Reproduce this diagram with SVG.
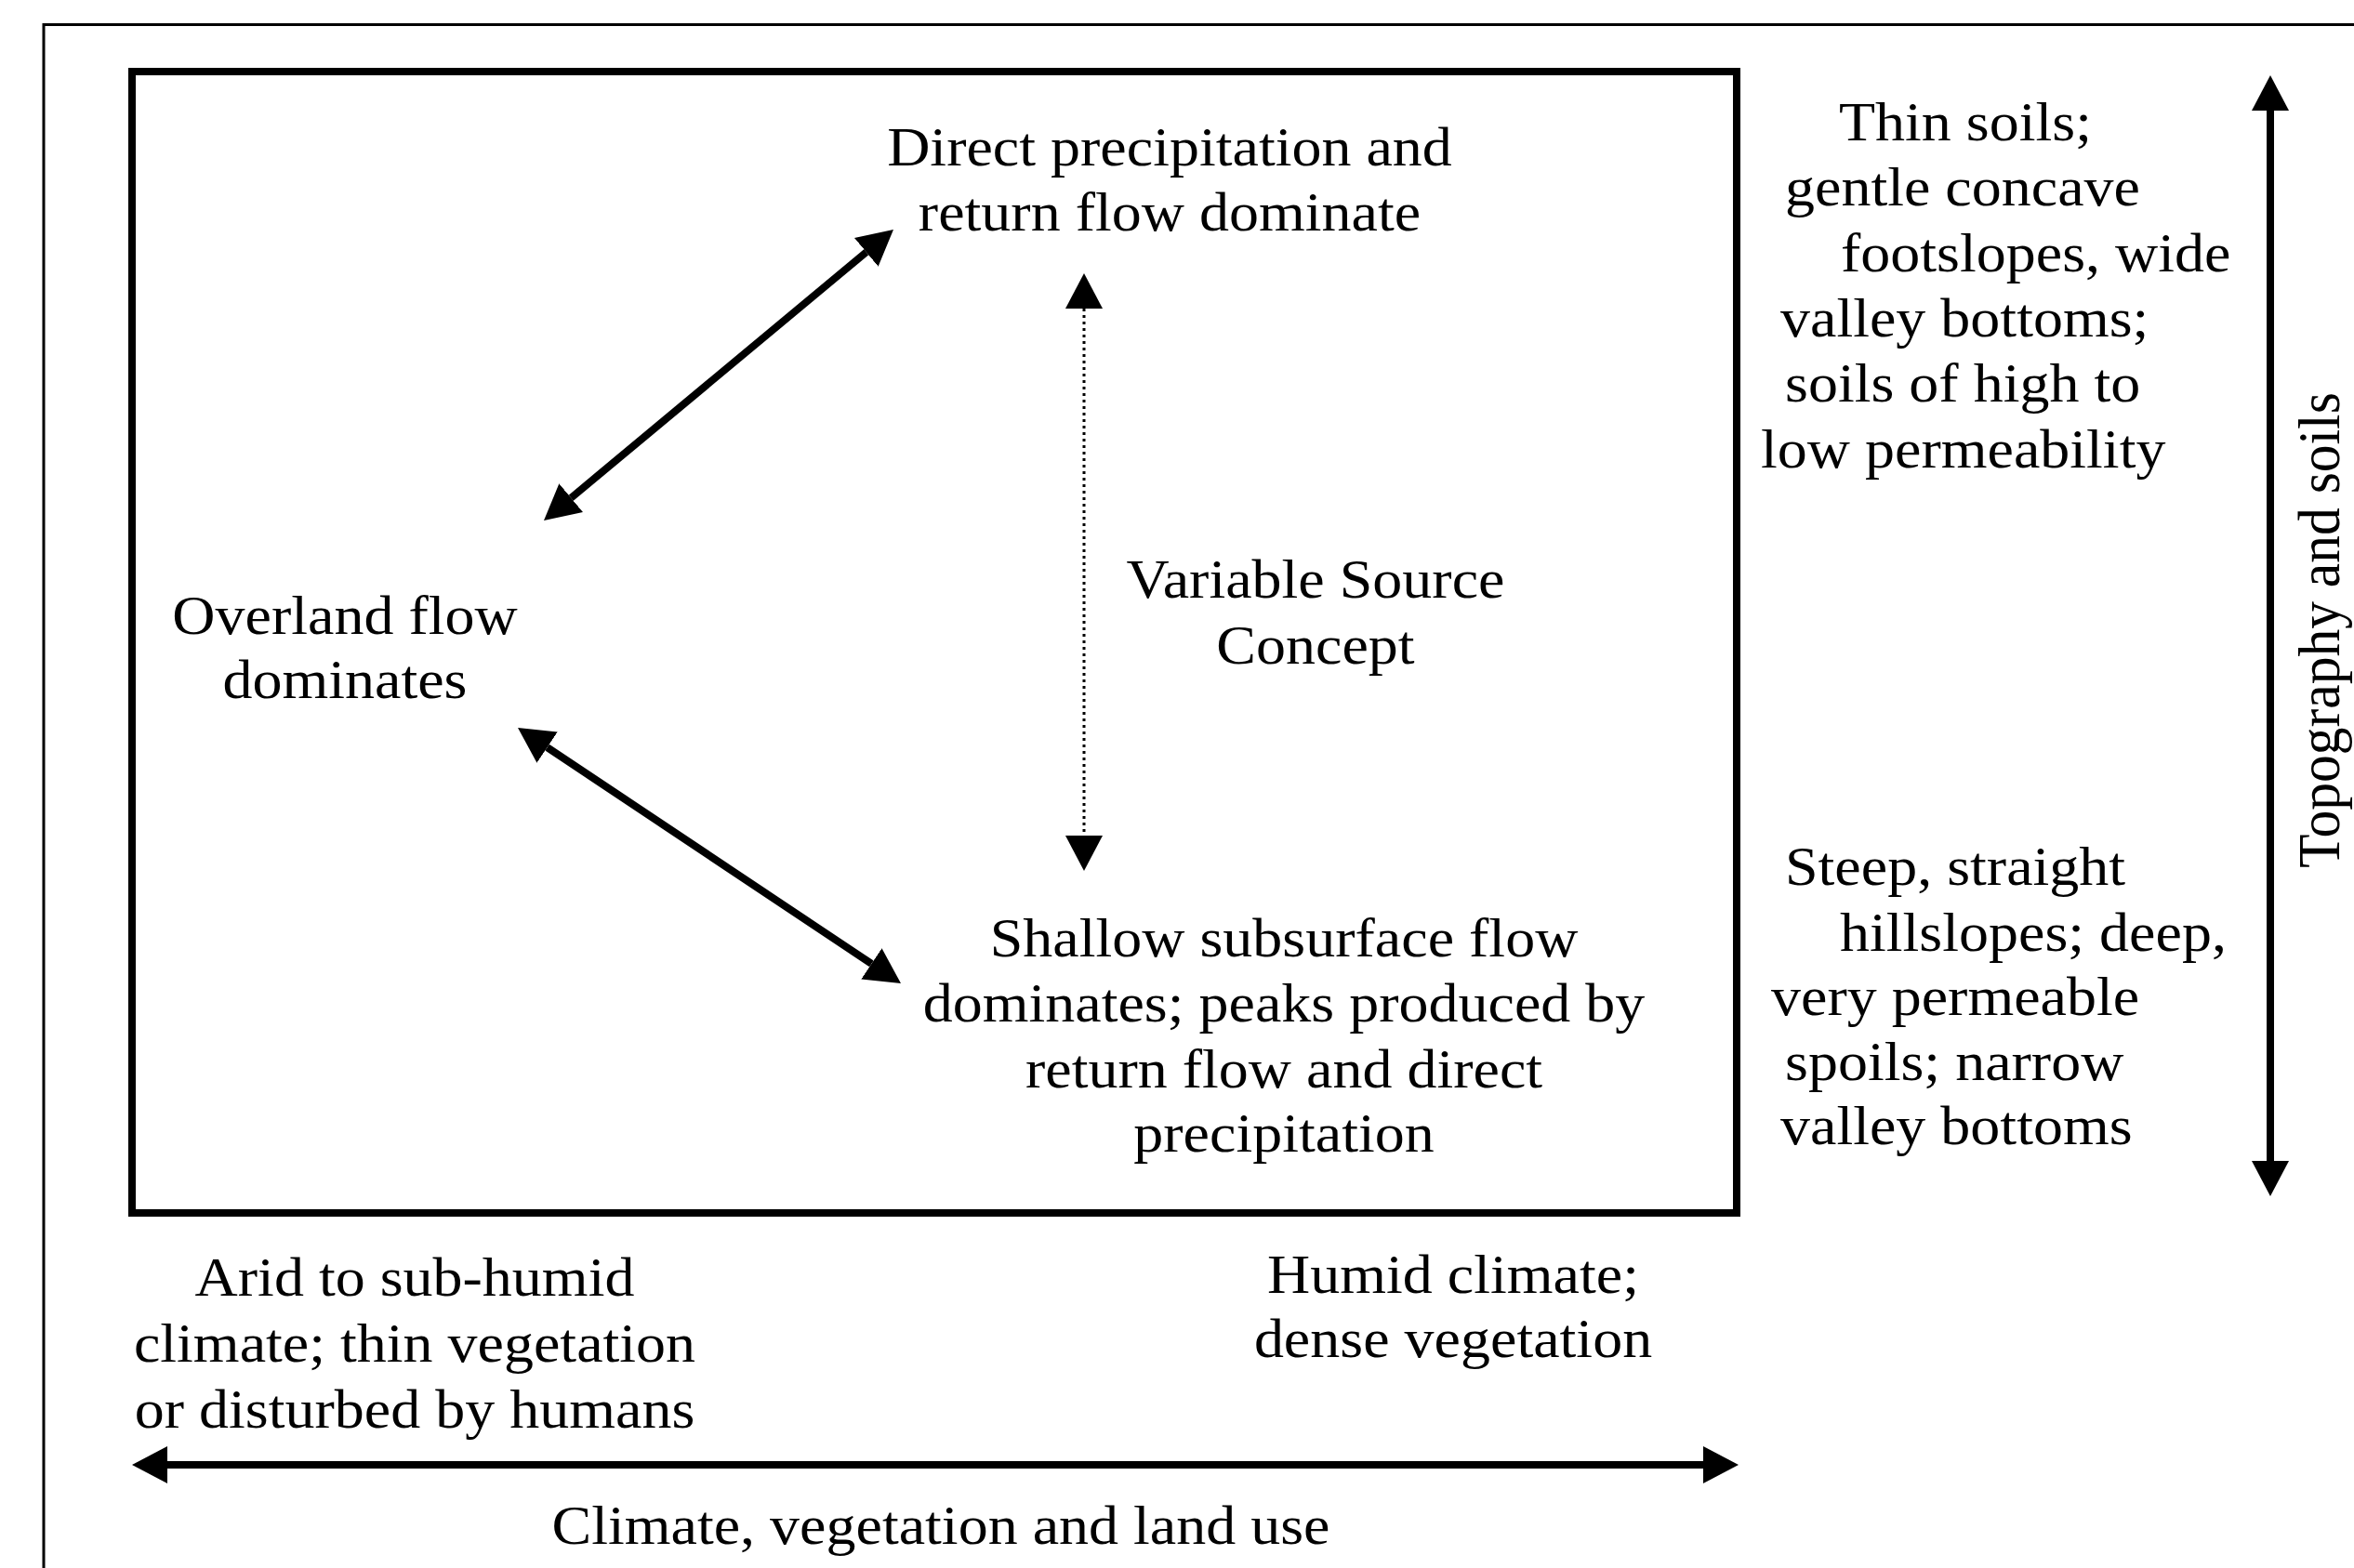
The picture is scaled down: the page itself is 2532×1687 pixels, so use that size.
<svg xmlns="http://www.w3.org/2000/svg" width="2532" height="1687" viewBox="0 0 2532 1687">
<style>
text{font-family:"Liberation Serif","Times New Roman",serif;font-size:64px;fill:#000}
.c{text-anchor:middle}
.frame{fill:none;stroke:#000;stroke-width:3}
.box{fill:none;stroke:#000;stroke-width:8}
.solid{stroke:#000;stroke-width:8;fill:none}
.dot{stroke:#000;stroke-width:3;stroke-dasharray:3 4;fill:none}
</style>
<defs>
<marker id="ah" markerUnits="userSpaceOnUse" markerWidth="40" markerHeight="44" viewBox="0 -22 40 44" refX="0" refY="0" orient="auto-start-reverse">
<path d="M0,-20 L38,0 L0,20 Z" fill="#000"/>
</marker>
</defs>
<rect width="2532" height="1687" fill="#fff"/>
<rect class="frame" x="47" y="26.5" width="2600" height="2000"/>
<g id="main-box"><rect class="box" x="142" y="77" width="1726" height="1228"/></g>
<g id="connectors">
<line class="solid" x1="614.2" y1="535.7" x2="931.8" y2="271.3" marker-start="url(#ah)" marker-end="url(#ah)"/>
<line class="solid" x1="588.6" y1="804.1" x2="937.4" y2="1036.9" marker-start="url(#ah)" marker-end="url(#ah)"/>
<line class="dot" x1="1166" y1="332" x2="1166" y2="899" marker-start="url(#ah)" marker-end="url(#ah)"/>
<line class="solid" x1="2442" y1="119" x2="2442" y2="1249" marker-start="url(#ah)" marker-end="url(#ah)"/>
<line class="solid" x1="180" y1="1576" x2="1832" y2="1576" marker-start="url(#ah)" marker-end="url(#ah)"/>
</g>
<g id="node-direct">
<text class="c" transform="translate(1258 178) scale(1 0.93)">Direct precipitation and</text>
<text class="c" transform="translate(1258 248) scale(1 0.93)">return flow dominate</text>
</g>
<g id="node-overland">
<text class="c" transform="translate(371 682) scale(1 0.93)">Overland flow</text>
<text class="c" transform="translate(371 751) scale(1 0.93)">dominates</text>
</g>
<g id="node-vsc">
<text class="c" transform="translate(1415 643) scale(1 0.93)">Variable Source</text>
<text class="c" transform="translate(1415 714) scale(1 0.93)">Concept</text>
</g>
<g id="node-shallow">
<text class="c" transform="translate(1381 1029) scale(1 0.93)">Shallow subsurface flow</text>
<text class="c" transform="translate(1381 1099) scale(1 0.93)">dominates; peaks produced by</text>
<text class="c" transform="translate(1381 1170) scale(1 0.93)">return flow and direct</text>
<text class="c" transform="translate(1381 1239) scale(1 0.93)">precipitation</text>
</g>
<g id="label-thin-soils">
<text transform="translate(1978 151) scale(1 0.93)">Thin soils;</text>
<text transform="translate(1920 221) scale(1 0.93)">gentle concave</text>
<text transform="translate(1980 292) scale(1 0.93)">footslopes, wide</text>
<text transform="translate(1915 362) scale(1 0.93)">valley bottoms;</text>
<text transform="translate(1920 432) scale(1 0.93)">soils of high to</text>
<text transform="translate(1894 503) scale(1 0.93)">low permeability</text>
</g>
<g id="label-steep">
<text transform="translate(1920 952) scale(1 0.93)">Steep, straight</text>
<text transform="translate(1979 1023) scale(1 0.93)">hillslopes; deep,</text>
<text transform="translate(1905 1092) scale(1 0.93)">very permeable</text>
<text transform="translate(1920 1162) scale(1 0.93)">spoils; narrow</text>
<text transform="translate(1915 1231) scale(1 0.93)">valley bottoms</text>
</g>
<g id="label-topography">
<text class="c" transform="translate(2516 678) rotate(-90) scale(0.93 1)">Topography and soils</text>
</g>
<g id="label-arid">
<text class="c" transform="translate(446 1394) scale(1 0.93)">Arid to sub-humid</text>
<text class="c" transform="translate(446 1465) scale(1 0.93)">climate; thin vegetation</text>
<text class="c" transform="translate(446 1536) scale(1 0.93)">or disturbed by humans</text>
</g>
<g id="label-humid">
<text class="c" transform="translate(1563 1391) scale(1 0.93)">Humid climate;</text>
<text class="c" transform="translate(1563 1460) scale(1 0.93)">dense vegetation</text>
</g>
<g id="label-climate">
<text class="c" transform="translate(1012 1661) scale(1 0.93)">Climate, vegetation and land use</text>
</g>
</svg>
